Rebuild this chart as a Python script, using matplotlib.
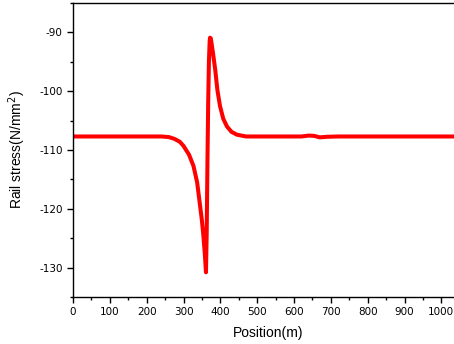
import numpy as np
import matplotlib.pyplot as plt
from matplotlib.ticker import MultipleLocator

plt.rcParams['axes.unicode_minus'] = False

# Rail stress along the track
position = [0, 240, 260, 275, 290, 300, 315, 327, 337, 345, 350, 354, 358,
            361, 363, 365, 367, 369, 371, 372, 374, 376, 380, 386, 392, 399,
            408, 418, 430, 445, 470, 620, 640, 655, 670, 690, 720, 1060]
stress = [-107.7, -107.7, -107.8, -108.1, -108.6, -109.3, -110.8, -112.7,
          -115.5, -119.5, -122.0, -124.6, -127.8, -130.8, -124.0, -112.0,
          -102.0, -95.0, -91.5, -90.9, -91.0, -91.8, -93.5, -96.3, -99.8,
          -102.5, -104.7, -106.0, -106.9, -107.4, -107.7, -107.7, -107.55,
          -107.6, -107.85, -107.75, -107.7, -107.7]

xticks = np.arange(0, 1001, 100)
yticks = [-130, -120, -110, -100, -90]

fig = plt.figure(figsize=(4.54, 3.44), dpi=100)
ax = fig.add_axes([0.1608, 0.1366, 0.86, 0.8547])

ax.plot(position, stress, color='#ff0000', linewidth=2.9,
        solid_joinstyle='round')

ax.set_xlim(0, 1060)
ax.set_ylim(-135, -85)
ax.set_xticks(xticks)
ax.set_yticks(yticks)
ax.xaxis.set_minor_locator(MultipleLocator(50))
ax.yaxis.set_minor_locator(MultipleLocator(5))
ax.tick_params(which='major', direction='out', length=4, width=1, labelsize=7.5)
ax.tick_params(which='minor', direction='out', length=2.5, width=1)
for lbl in ax.get_xticklabels() + ax.get_yticklabels():
    lbl.set_family('DejaVu Sans')

ax.spines['right'].set_visible(False)
for s in ['left', 'bottom', 'top']:
    ax.spines[s].set_linewidth(1.0)

ax.set_xlabel('Position(m)', fontsize=10, family='Liberation Sans', labelpad=6)
ax.set_ylabel('Rail stress(N/mm$^2$)', fontsize=10, family='Liberation Sans', labelpad=8)

fig.savefig('out.png', dpi=100)
